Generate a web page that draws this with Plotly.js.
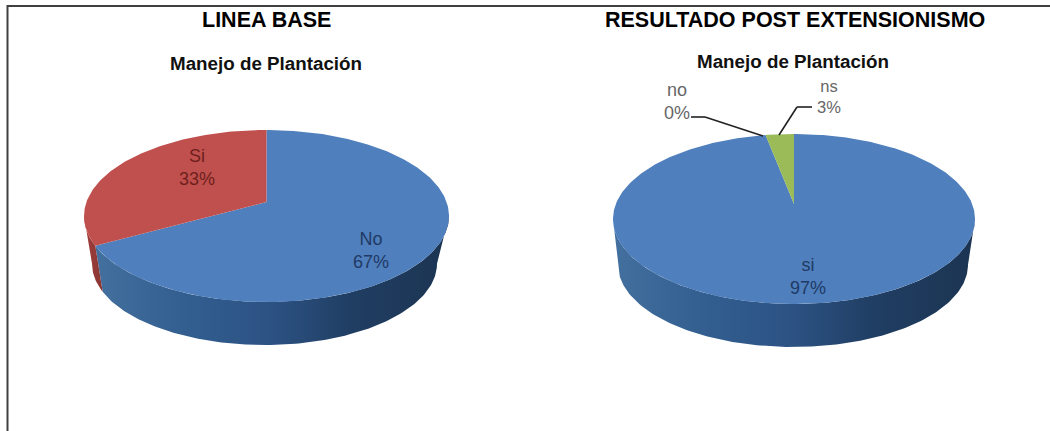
<!DOCTYPE html>
<html>
<head>
<meta charset="utf-8">
<script src="https://cdn.plot.ly/plotly-3.0.1.min.js"></script>
<style>html,body{margin:0;padding:0;background:#fff}#chart{width:1050px;height:431px}</style>
</head>
<body>
<div id="chart"></div>
<script>
// ---- data ----
const headings = ["LINEA BASE", "RESULTADO POST EXTENSIONISMO"];
const subtitle = "Manejo de Plantación";
const baseLabels = ["No", "Si"];
const baseValues = [67, 33];
const baseColors = ["#4F7FBC", "#C0504D"];
const postLabels = ["si", "no", "ns"];
const postValues = [97, 0, 3];
const postColors = ["#4F7FBC", "#C0504D", "#9BBB59"];

// ---- 3D look: a circle projected in perspective, clockwise from the top ----
function geometry(cx, halfWidth, top, apex, bottom, cx2, halfWidth2, bottom2) {
  const far = apex - top, near = bottom - apex;
  const c = (near - far) / (near + far);
  const a = far * (1 + c);
  const d = halfWidth * Math.sqrt(1 - c * c);
  const k = halfWidth2 / halfWidth;
  return {
    c, upper: {cx, d, a, apex},
    lower: {cx: cx2, d: d * k, a: a * k, apex: bottom2 - a * k / (1 - c)}
  };
}
function pt(ring, c, deg) {
  const t = deg * Math.PI / 180, X = Math.sin(t), Y = Math.cos(t), w = 1 + c * Y;
  return [ring.cx + ring.d * X / w, ring.apex - ring.a * Y / w];
}
function arc(ring, c, from, to) {
  const out = [], n = Math.max(2, Math.ceil(Math.abs(to - from)));
  for (let i = 0; i <= n; i++) out.push(pt(ring, c, from + (to - from) * i / n));
  return out;
}
function polyTrace(points, extra) {
  return Object.assign({
    type: "scatter", mode: "lines", x: points.map(p => p[0]), y: points.map(p => p[1]),
    fill: "toself", line: {width: 0}, hoverinfo: "skip", showlegend: false
  }, extra);
}
const wallBlue = {type: "horizontal", colorscale: [
  [0, "#44709F"], [0.25, "#325E90"], [0.5, "#2C5283"], [0.72, "#203E63"], [1, "#1C3452"]]};
const wallRed = {type: "horizontal", colorscale: [[0, "#A03F3C"], [1, "#8A3533"]]};

function drawPie(g, values, colors, wallFills) {
  const total = values.reduce((s, v) => s + v, 0);
  const visA = Math.acos(-g.c) * 180 / Math.PI, visB = 360 - visA;
  const walls = [], tops = [];
  let start = 0;
  values.forEach((v, i) => {
    const end = start + v / total * 360;
    if (v > 0) {
      const from = Math.max(start, visA), to = Math.min(end, visB);
      if (to > from) {
        const pts = arc(g.upper, g.c, from, to).concat(arc(g.lower, g.c, to, from));
        walls.push(polyTrace(pts, {fillgradient: wallFills[i], fillcolor: colors[i]}));
      }
      const pts = [[g.upper.cx, g.upper.apex]].concat(arc(g.upper, g.c, start, end));
      tops.push(polyTrace(pts, {fillcolor: colors[i]}));
    }
    start = end;
  });
  return walls.concat(tops);
}
function pct(values, i) {
  const total = values.reduce((s, v) => s + v, 0);
  return Math.round(values[i] / total * 100) + "%";
}

const leftPie = geometry(266.5, 182.5, 130, 202, 302, 264.5, 172.5, 345);
const rightPie = geometry(794, 181, 134, 204, 304, 793, 175, 347);

const traces = [
  ...drawPie(leftPie, baseValues, baseColors, [wallBlue, wallRed]),
  ...drawPie(rightPie, postValues, postColors, [wallBlue, wallBlue, wallBlue]),
];

function label(x, y, text, color, size, bold) {
  return {xref: "x", yref: "y", x, y, text: bold ? "<b>" + text + "</b>" : text, showarrow: false,
    font: {family: "Liberation Sans, Arial, sans-serif", size, color}, align: "center"};
}
const annotations = [
  label(266, 20, headings[0], "#000", 21.5, true),
  label(795, 20, headings[1], "#000", 21.5, true),
  label(266, 63, subtitle, "#111", 18.8, true),
  label(793, 61, subtitle, "#111", 18.8, true),
  label(197, 167, baseLabels[1] + "<br>" + pct(baseValues, 1), "#6E1F1C", 18),
  label(371, 250, baseLabels[0] + "<br>" + pct(baseValues, 0), "#1F3A66", 18),
  label(808, 276, postLabels[0] + "<br>" + pct(postValues, 0), "#1F3A66", 18),
  label(677, 101, postLabels[1] + "<br>" + pct(postValues, 1), "#666", 18),
  label(829, 96, postLabels[2] + "<br>" + pct(postValues, 2), "#666", 16.5),
];
const leader = {type: "line", xref: "x", yref: "y"};
const shapes = [
  {type: "rect", xref: "x", yref: "y", x0: 7.5, y0: 6, x1: 1060, y1: 450, line: {color: "#404040", width: 2}},
  Object.assign({x0: 691, y0: 117, x1: 705, y1: 117, line: {color: "#222", width: 1.6}}, leader),
  Object.assign({x0: 705, y0: 117, x1: 763, y1: 136, line: {color: "#222", width: 1.6}}, leader),
  Object.assign({x0: 779, y0: 135, x1: 797, y1: 107, line: {color: "#222", width: 1.6}}, leader),
  Object.assign({x0: 797, y0: 107, x1: 812, y1: 107, line: {color: "#222", width: 1.6}}, leader),
];
const hidden = {visible: false, fixedrange: true};
Plotly.newPlot("chart", traces, {
  width: 1050, height: 431, margin: {l: 0, r: 0, t: 0, b: 0},
  paper_bgcolor: "#fff", plot_bgcolor: "#fff", showlegend: false,
  xaxis: Object.assign({range: [0, 1050]}, hidden),
  yaxis: Object.assign({range: [431, 0]}, hidden),
  annotations, shapes
}, {displayModeBar: false, staticPlot: true});
</script>
</body>
</html>
